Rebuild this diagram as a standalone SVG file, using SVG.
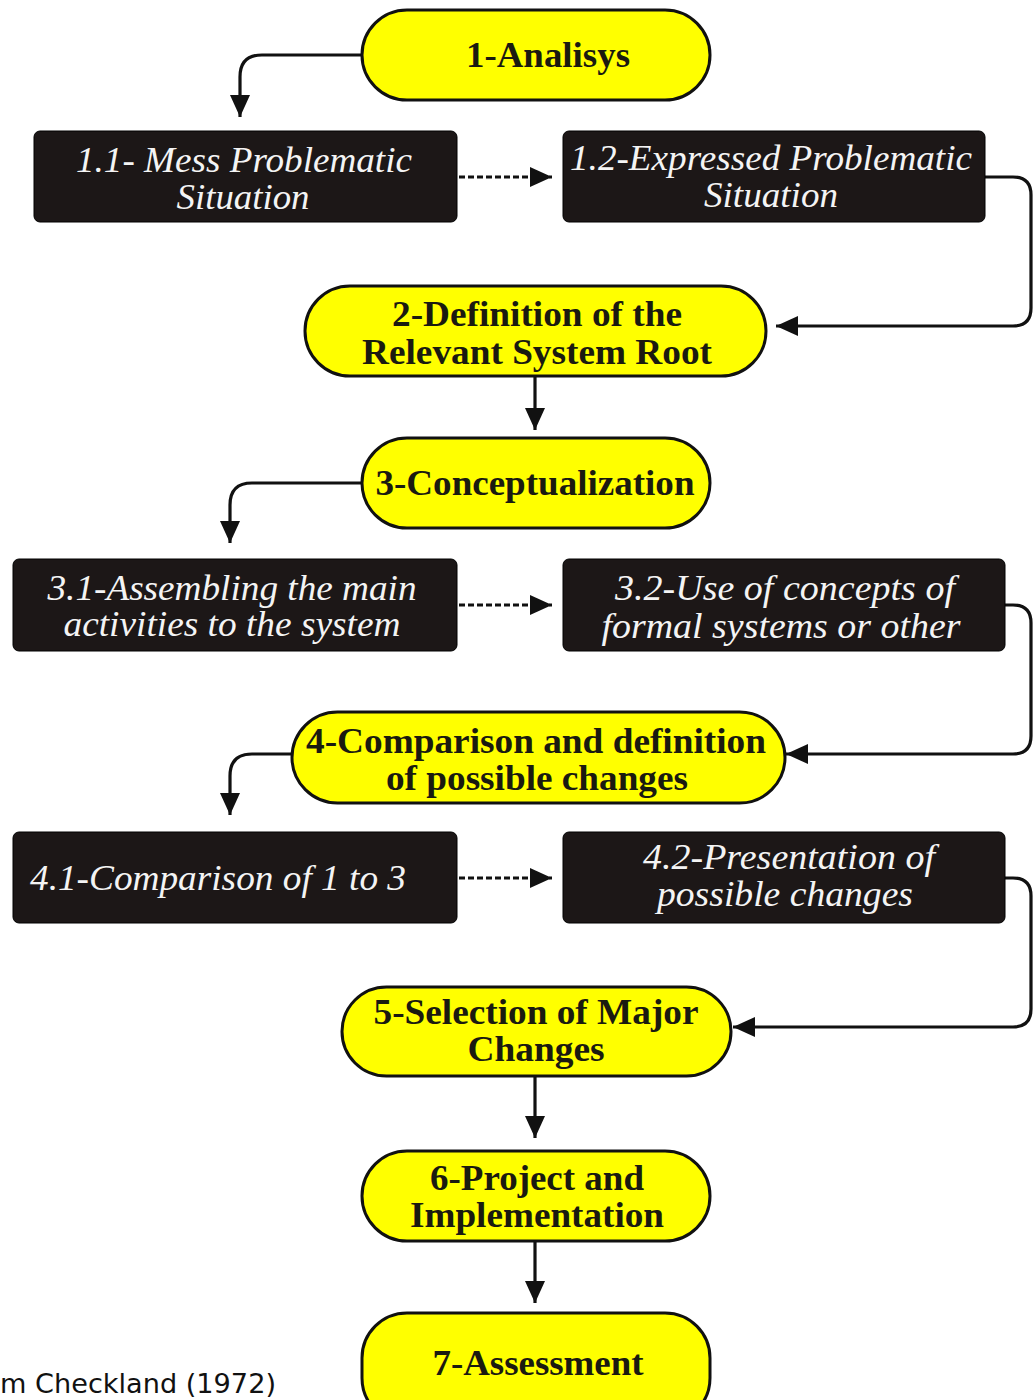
<svg xmlns="http://www.w3.org/2000/svg" width="1033" height="1400" viewBox="0 0 1033 1400">
<style>
.pill{fill:#ffff00;stroke:#111;stroke-width:3}
.box{fill:#1c1717;stroke:#000;stroke-width:1}
.pt{font-family:"Liberation Serif","Times New Roman",serif;font-weight:bold;font-size:36px;fill:#1a1a10;text-anchor:middle}
.bt{font-family:"Liberation Serif","Times New Roman",serif;font-style:italic;font-size:36px;fill:#f4f4f4;text-anchor:middle}
.ln{fill:none;stroke:#111;stroke-width:3.2}
.dash{fill:none;stroke:#111;stroke-width:3;stroke-dasharray:6 3}
.cap{font-family:"DejaVu Sans","Liberation Sans",sans-serif;font-size:27px;fill:#111}
</style>
<defs>
<marker id="ah" markerUnits="userSpaceOnUse" markerWidth="22" markerHeight="20" refX="22" refY="10" orient="auto">
<path d="M0,0 L22,10 L0,20 z" fill="#111"/>
</marker>
</defs>
<rect width="1033" height="1400" fill="#fff"/>

<g id="connectors">
<path class="ln" d="M362,55 H262 Q240,55 240,77 V117" marker-end="url(#ah)"/>
<path class="dash" d="M459,177 H552" marker-end="url(#ah)"/>
<path class="ln" d="M985,177 H1013 Q1031,177 1031,195 V308 Q1031,326 1013,326 H776" marker-end="url(#ah)"/>
<path class="ln" d="M535,376 V430" marker-end="url(#ah)"/>
<path class="ln" d="M362,483 H252 Q230,483 230,505 V543" marker-end="url(#ah)"/>
<path class="dash" d="M459,605 H552" marker-end="url(#ah)"/>
<path class="ln" d="M1005,605 H1013 Q1031,605 1031,623 V736 Q1031,754 1013,754 H786" marker-end="url(#ah)"/>
<path class="ln" d="M292,754 H252 Q230,754 230,776 V815" marker-end="url(#ah)"/>
<path class="dash" d="M459,878 H552" marker-end="url(#ah)"/>
<path class="ln" d="M1005,878 H1013 Q1031,878 1031,896 V1009 Q1031,1027 1013,1027 H733" marker-end="url(#ah)"/>
<path class="ln" d="M535,1076 V1138" marker-end="url(#ah)"/>
<path class="ln" d="M535,1236 V1303" marker-end="url(#ah)"/>
</g>

<g id="n1">
<rect class="pill" x="362" y="10" width="348" height="90" rx="45"/>
<text class="pt" x="548" y="67" textLength="164" lengthAdjust="spacingAndGlyphs">1-Analisys</text>
</g>
<g id="n11">
<rect class="box" x="34" y="131" width="423" height="91" rx="6"/>
<text class="bt" x="244" y="172" textLength="336" lengthAdjust="spacingAndGlyphs">1.1- Mess Problematic</text>
<text class="bt" x="243" y="209" textLength="133" lengthAdjust="spacingAndGlyphs">Situation</text>
</g>
<g id="n12">
<rect class="box" x="563" y="131" width="422" height="91" rx="6"/>
<text class="bt" x="771" y="170" textLength="402" lengthAdjust="spacingAndGlyphs">1.2-Expressed Problematic</text>
<text class="bt" x="771" y="207" textLength="134" lengthAdjust="spacingAndGlyphs">Situation</text>
</g>
<g id="n2">
<rect class="pill" x="305" y="286" width="461" height="90" rx="45"/>
<text class="pt" x="537" y="326" textLength="290" lengthAdjust="spacingAndGlyphs">2-Definition of the</text>
<text class="pt" x="537" y="364" textLength="350" lengthAdjust="spacingAndGlyphs">Relevant System Root</text>
</g>
<g id="n3">
<rect class="pill" x="362" y="438" width="348" height="90" rx="45"/>
<text class="pt" x="535" y="495" textLength="319" lengthAdjust="spacingAndGlyphs">3-Conceptualization</text>
</g>
<g id="n31">
<rect class="box" x="13" y="559" width="444" height="92" rx="6"/>
<text class="bt" x="232" y="600" textLength="369" lengthAdjust="spacingAndGlyphs">3.1-Assembling the main</text>
<text class="bt" x="232" y="636" textLength="337" lengthAdjust="spacingAndGlyphs">activities to the system</text>
</g>
<g id="n32">
<rect class="box" x="563" y="559" width="442" height="92" rx="6"/>
<text class="bt" x="785" y="600" textLength="340" lengthAdjust="spacingAndGlyphs">3.2-Use of concepts of</text>
<text class="bt" x="781" y="638" textLength="359" lengthAdjust="spacingAndGlyphs">formal systems or other</text>
</g>
<g id="n4">
<rect class="pill" x="292" y="712" width="493" height="91" rx="45.5"/>
<text class="pt" x="536" y="753" textLength="460" lengthAdjust="spacingAndGlyphs">4-Comparison and definition</text>
<text class="pt" x="537" y="790" textLength="302" lengthAdjust="spacingAndGlyphs">of possible changes</text>
</g>
<g id="n41">
<rect class="box" x="13" y="832" width="444" height="91" rx="6"/>
<text class="bt" x="218" y="890" textLength="376" lengthAdjust="spacingAndGlyphs">4.1-Comparison of 1 to 3</text>
</g>
<g id="n42">
<rect class="box" x="563" y="832" width="442" height="91" rx="6"/>
<text class="bt" x="789" y="869" textLength="292" lengthAdjust="spacingAndGlyphs">4.2-Presentation of</text>
<text class="bt" x="785" y="906" textLength="256" lengthAdjust="spacingAndGlyphs">possible changes</text>
</g>
<g id="n5">
<rect class="pill" x="342" y="987" width="389" height="89" rx="44.5"/>
<text class="pt" x="536" y="1024" textLength="325" lengthAdjust="spacingAndGlyphs">5-Selection of Major</text>
<text class="pt" x="536" y="1061" textLength="137" lengthAdjust="spacingAndGlyphs">Changes</text>
</g>
<g id="n6">
<rect class="pill" x="362" y="1151" width="348" height="90" rx="45"/>
<text class="pt" x="537" y="1190" textLength="214" lengthAdjust="spacingAndGlyphs">6-Project and</text>
<text class="pt" x="537" y="1227" textLength="254" lengthAdjust="spacingAndGlyphs">Implementation</text>
</g>
<g id="n7">
<rect class="pill" x="362" y="1313" width="348" height="110" rx="45"/>
<text class="pt" x="538" y="1375" textLength="211" lengthAdjust="spacingAndGlyphs">7-Assessment</text>
</g>
<text class="cap" x="0" y="1393" textLength="276" lengthAdjust="spacingAndGlyphs">m Checkland (1972)</text>
</svg>
